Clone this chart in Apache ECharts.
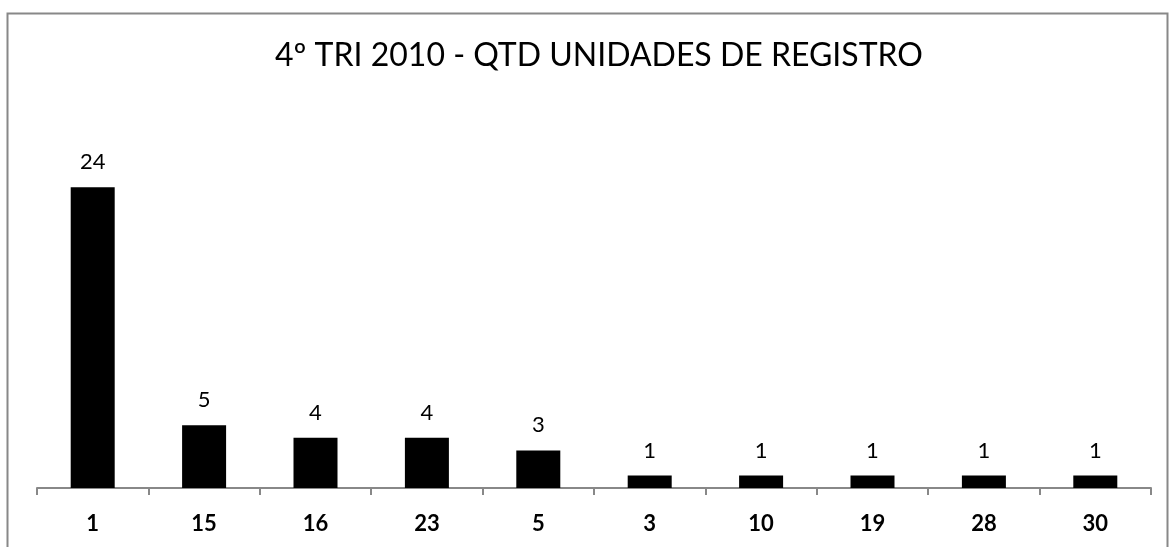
<!DOCTYPE html>
<html>
<head>
<meta charset="utf-8">
<style>
  html, body { margin: 0; padding: 0; background: #fff; }
  #chart { width: 1169px; height: 547px; }
</style>
<script src="https://cdn.jsdelivr.net/npm/echarts@6/dist/echarts.min.js"></script>
</head>
<body>
<div id="chart"></div>
<script>
// unidades de registro, 4º trimestre 2010
var categories = ['1', '15', '16', '23', '5', '3', '10', '19', '28', '30'];
var quantidades = [24, 5, 4, 4, 3, 1, 1, 1, 1, 1];

var chart = echarts.init(document.getElementById('chart'));

var option = {
  backgroundColor: '#fff',
  animation: false,
  title: {
    text: '4º TRI 2010 - QTD UNIDADES DE REGISTRO',
    left: 270,
    top: 35,
    textStyle: {
      fontFamily: 'Lato',
      fontWeight: 'normal',
      fontSize: 32,
      color: '#000'
    }
  },
  graphic: [{
    type: 'rect',
    shape: { x: 7.5, y: 13.5, width: 1160, height: 560 },
    style: { fill: 'none', stroke: '#888', lineWidth: 2 },
    silent: true
  }],
  grid: {
    left: 37,
    right: 18,
    top: 112,
    bottom: 59,
    containLabel: false
  },
  xAxis: {
    type: 'category',
    data: categories,
    axisLine: { lineStyle: { color: '#888', width: 2 } },
    axisTick: { show: true, length: 7, lineStyle: { color: '#888', width: 2 } },
    axisLabel: {
      margin: 25,
      fontFamily: 'Lato',
      fontWeight: 'bold',
      fontSize: 22,
      color: '#000'
    }
  },
  yAxis: {
    type: 'value',
    min: 0,
    max: 30,
    show: false,
    splitLine: { show: false }
  },
  series: [{
    type: 'bar',
    data: quantidades,
    barWidth: 44,
    itemStyle: { color: '#000' },
    label: {
      show: true,
      position: 'top',
      distance: 14,
      fontFamily: 'Lato',
      fontSize: 22,
      color: '#000'
    }
  }]
};

chart.setOption(option);
</script>
</body>
</html>
